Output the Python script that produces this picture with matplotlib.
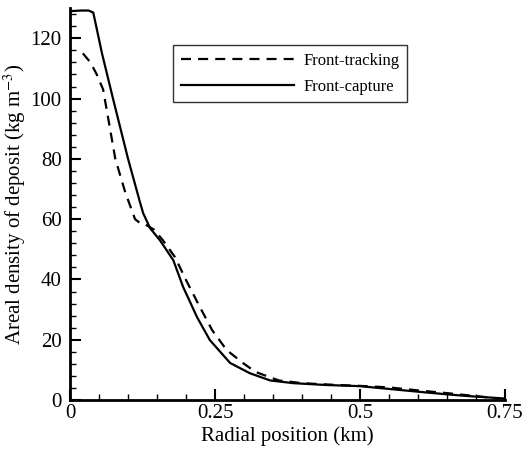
import matplotlib
matplotlib.use("Agg")
import matplotlib.pyplot as plt
from matplotlib.ticker import MultipleLocator

plt.rcParams['font.family'] = ['Liberation Serif', 'DejaVu Serif']
plt.rcParams['mathtext.fontset'] = 'stix'

# front-tracking (dashed)
track_x = [0.022, 0.035, 0.046, 0.057, 0.078, 0.095, 0.112, 0.122, 0.129, 0.145, 0.16,
           0.181, 0.2, 0.224, 0.245, 0.27, 0.298, 0.32, 0.36, 0.4, 0.45, 0.5, 0.55,
           0.6, 0.65, 0.7, 0.74]
track_y = [115, 112, 108, 103, 80, 69, 60, 58.5, 58.3, 56.5, 53,
           47.4, 39.8, 30.8, 23.2, 16.6, 12.3, 9.3, 6.5, 5.6, 5.1, 4.7, 4.2,
           3.2, 2.3, 1.3, 0.5]

# front-capture (solid)
cap_x = [0.0, 0.02, 0.032, 0.04, 0.055, 0.074, 0.1, 0.12, 0.126, 0.138, 0.155,
         0.178, 0.195, 0.219, 0.241, 0.276, 0.31, 0.345, 0.385, 0.44, 0.5, 0.56,
         0.615, 0.68, 0.75]
cap_y = [129, 129.2, 129.2, 128.5, 115, 100, 80, 66, 62, 57, 53,
         46.4, 37.5, 27.5, 19.9, 12.3, 8.9, 6.5, 5.6, 5.0, 4.6, 3.5,
         2.5, 1.4, 0.5]

fig = plt.figure(figsize=(5.27, 4.51), dpi=100)
ax = fig.add_axes([0.133, 0.113, 0.825, 0.869])

ax.plot(track_x, track_y, color='black', lw=1.6, ls=(0, (4.5, 3.2)), label='Front-tracking')
ax.plot(cap_x, cap_y, color='black', lw=1.6, label='Front-capture')

ax.set_xlim(0, 0.75)
ax.set_ylim(0, 130)
ax.set_xticks([0, 0.25, 0.5, 0.75])
ax.set_xticklabels(['0', '0.25', '0.5', '0.75'])
ax.set_yticks([0, 20, 40, 60, 80, 100, 120])
ax.xaxis.set_minor_locator(MultipleLocator(0.05))
ax.yaxis.set_minor_locator(MultipleLocator(4))

for s in ['top', 'right']:
    ax.spines[s].set_visible(False)
for s in ['left', 'bottom']:
    ax.spines[s].set_linewidth(2)

ax.tick_params(which='major', direction='in', length=8, width=1.5, labelsize=15)
ax.tick_params(axis='y', which='major', pad=6)
ax.tick_params(axis='x', which='major', pad=3)
ax.tick_params(which='minor', direction='in', length=4, width=1)

ax.set_xlabel('Radial position (km)', fontsize=15, labelpad=2)
ax.set_ylabel('Areal density of deposit (kg m$^{-3}$)', fontsize=15, labelpad=2)

leg = ax.legend(loc='upper left', bbox_to_anchor=(0.237, 0.905), fontsize=12,
                handlelength=6.8, frameon=True, fancybox=False, borderpad=0.45,
                labelspacing=0.6, handletextpad=0.55, borderaxespad=0)
leg.get_frame().set_edgecolor('black')
leg.get_frame().set_linewidth(1)

fig.savefig('out.png', dpi=100)
